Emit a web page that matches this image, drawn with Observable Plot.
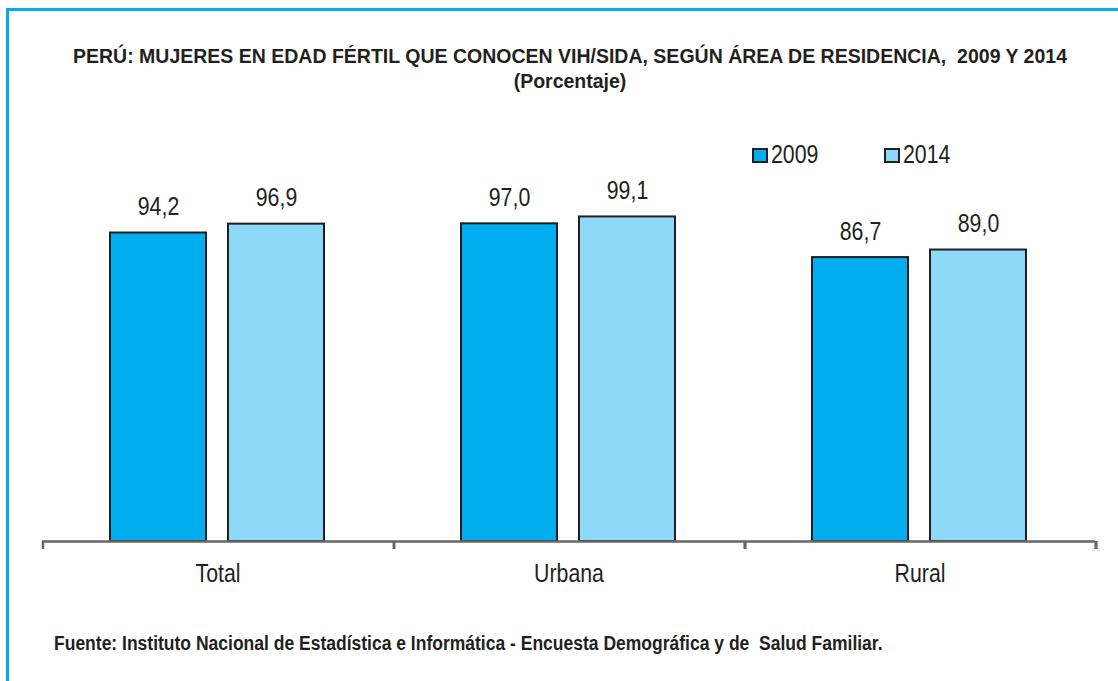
<!DOCTYPE html>
<html><head><meta charset="utf-8">
<script src="https://cdn.jsdelivr.net/npm/d3@7"></script>
<script src="https://cdn.jsdelivr.net/npm/@observablehq/plot@0.6"></script>
<style>
body{margin:0;background:#fff;}
#wrap{position:relative;width:1118px;height:681px;overflow:hidden;font-family:"Liberation Sans",Arial,sans-serif;color:#231F20;}
#frame{position:absolute;left:6px;top:8px;width:1200px;height:800px;border-left:3px solid #00AEEF;border-top:3px solid #00AEEF;}
#chart{position:absolute;left:0;top:0;}
#title{position:absolute;left:0;width:1140px;top:44px;text-align:center;font-weight:bold;font-size:20px;line-height:25px;white-space:pre;transform:scaleX(0.975);transform-origin:570px 0;}
.sw{position:absolute;top:148px;width:12px;height:11px;border:2px solid #231F20;}
.lt{position:absolute;top:139px;font-size:26px;line-height:30px;transform:scaleX(0.82);transform-origin:0 0;}
#foot{position:absolute;left:54px;top:632px;font-weight:bold;font-size:20px;white-space:pre;transform:scaleX(0.875);transform-origin:0 0;}
</style></head>
<body>
<div id="wrap">
  <div id="frame"></div>
  <div id="chart"></div>
  <div id="title">PERÚ: MUJERES EN EDAD FÉRTIL QUE CONOCEN VIH/SIDA, SEGÚN ÁREA DE RESIDENCIA,  2009 Y 2014
(Porcentaje)</div>
  <div id="legend"></div>
  <div id="foot">Fuente: Instituto Nacional de Estadística e Informática - Encuesta Demográfica y de  Salud Familiar.</div>
</div>
<script>
const categories = ["Total", "Urbana", "Rural"];
const years = ["2009", "2014"];
const values2009 = [94.2, 97.0, 86.7];
const values2014 = [96.9, 99.1, 89.0];
const yearColors = ["#00AEEF", "#8ED8F8"];

const data = [];
categories.forEach((c, i) => {
  data.push({area: c, year: years[0], value: values2009[i]});
  data.push({area: c, year: years[1], value: values2014[i]});
});

const fmt = v => v.toFixed(1).replace(".", ",");

function boundaryTicks(index, scales, values, dimensions) {
  const g = d3.create("svg:g");
  const fx = scales.fx, y = scales.y;
  if (!fx || !y) return g.node();
  const edges = categories.map(c => fx(c));
  edges.push(fx(categories[categories.length - 1]) + fx.bandwidth());
  const y0 = y(0);
  g.selectAll("line").data(edges).join("line")
    .attr("x1", d => d).attr("x2", d => d)
    .attr("y1", y0).attr("y2", y0 + 8)
    .attr("stroke", "#666").attr("stroke-width", 2.5);
  return g.node();
}

const chart = Plot.plot({
  width: 1118,
  height: 681,
  marginLeft: 41,
  marginRight: 22,
  marginTop: 213.5,
  marginBottom: 140,
  style: {fontFamily: '"Liberation Sans",Arial,sans-serif', fontSize: "26px", color: "#231F20", background: "transparent"},
  fx: {domain: categories, padding: 0, label: null, axis: null},
  x: {type: "band", domain: years, paddingInner: 0.185, paddingOuter: 0.57, axis: null},
  y: {domain: [0, 100], axis: null},
  color: {domain: years, range: yearColors},
  marks: [
    Plot.barY(data, {fx: "area", x: "year", y: "value", fill: "year", stroke: "#231F20", strokeWidth: 2}),
    Plot.text(data, {fx: "area", x: "year", y: "value", text: d => fmt(d.value), dy: -18, lineAnchor: "bottom", fontSize: 26, fill: "#231F20"}),
    Plot.ruleY([0], {stroke: "#666", strokeWidth: 2.5}),
    boundaryTicks,
    Plot.text(categories, {fx: d => d, text: d => d, frameAnchor: "bottom", lineAnchor: "top", dy: 22, fontSize: 26, fill: "#231F20"})
  ]
});
// condense SVG text horizontally (narrow typeface look); y is left untouched
d3.select(chart).selectAll("text").each(function() {
  const xa = this.getAttribute("x");
  const x = xa !== null && isFinite(+xa) ? +xa : 0;
  if (xa !== null && isFinite(+xa)) this.removeAttribute("x");
  const t = this.getAttribute("transform") || "";
  this.setAttribute("transform", `${t} translate(${x},0) scale(0.82,1)`);
});
document.getElementById("chart").appendChild(chart);

const swatchPos = [752, 884];
const textPos = [771, 903];
const legend = document.getElementById("legend");
years.forEach((yr, i) => {
  const sw = document.createElement("div");
  sw.className = "sw";
  sw.style.left = swatchPos[i] + "px";
  sw.style.background = yearColors[i];
  const t = document.createElement("div");
  t.className = "lt";
  t.style.left = textPos[i] + "px";
  t.textContent = yr;
  legend.appendChild(sw); legend.appendChild(t);
});
</script>
</body></html>
